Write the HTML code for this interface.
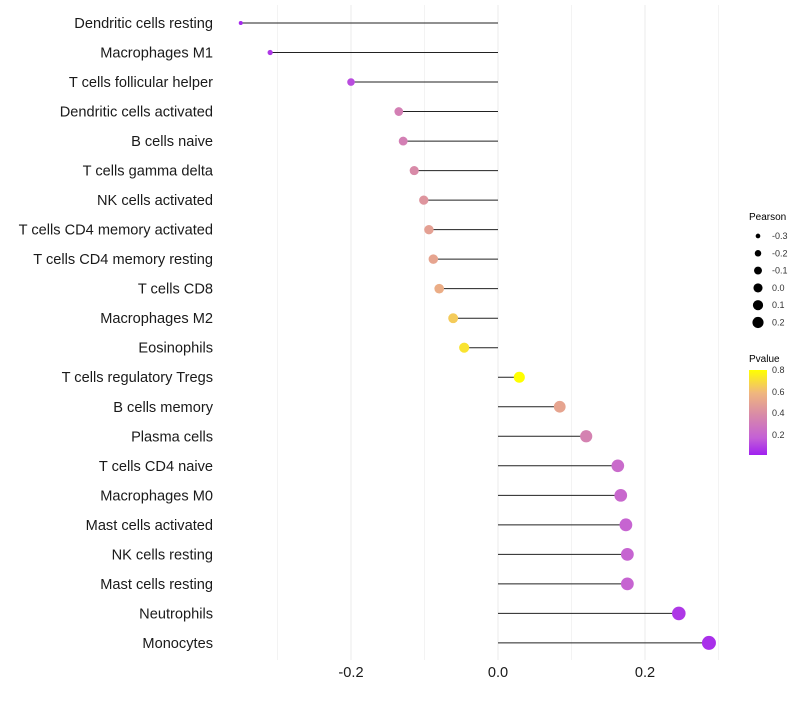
<!DOCTYPE html>
<html><head><meta charset="utf-8"><style>
body{margin:0;background:#fff;font-family:"Liberation Sans",sans-serif}
</style></head><body>
<svg id="chart" width="800" height="700" xmlns="http://www.w3.org/2000/svg" font-family="Liberation Sans, sans-serif">
<defs><linearGradient id="pg" x1="0" y1="1" x2="0" y2="0">
<stop offset="0" stop-color="#a020f0"/><stop offset="0.2" stop-color="#c460d6"/><stop offset="0.47" stop-color="#d88aa8"/><stop offset="0.73" stop-color="#f0b67e"/><stop offset="1" stop-color="#ffff00"/></linearGradient></defs>
<g id="grid"></g><g id="marks"></g><g id="labels"></g>
<g>
<text x="749" y="220" font-size="10" fill="#000">Pearson</text>
<g id="sizeleg"></g></g>
<g>
<text x="749" y="362" font-size="10" fill="#000">Pvalue</text>
<rect x="749" y="370" width="18" height="85" fill="url(#pg)"/>
<g font-size="9" fill="#333">
<text x="772" y="373">0.8</text><text x="772" y="395">0.6</text><text x="772" y="416">0.4</text><text x="772" y="438">0.2</text></g></g>
</svg>
<script>
const categories=["Dendritic cells resting","Macrophages M1","T cells follicular helper","Dendritic cells activated","B cells naive","T cells gamma delta","NK cells activated","T cells CD4 memory activated","T cells CD4 memory resting","T cells CD8","Macrophages M2","Eosinophils","T cells regulatory  Tregs ","B cells memory","Plasma cells","T cells CD4 naive","Macrophages M0","Mast cells activated","NK cells resting","Mast cells resting","Neutrophils","Monocytes"];
const pearson=[-0.350,-0.310,-0.200,-0.135,-0.129,-0.114,-0.101,-0.094,-0.088,-0.080,-0.061,-0.046,0.029,0.084,0.120,0.163,0.167,0.174,0.176,0.176,0.246,0.287];
const pvalues=[0.06,0.1,0.15,0.35,0.35,0.4,0.45,0.5,0.52,0.56,0.66,0.73,0.88,0.52,0.36,0.25,0.24,0.22,0.22,0.22,0.1,0.08];
const xTicks=[-0.2,0.0,0.2];
const xTickLabels=["-0.2","0.0","0.2"];
const sizeLegendVals=[-0.3,-0.2,-0.1,0.0,0.1,0.2];
const NS="http://www.w3.org/2000/svg";
const xs=v=>498+v*735;
const ys=i=>23+i*29.52;
const rs=v=>Math.sqrt(4+Math.max(0,v+0.35)*70.6);
function col(p){const st=[[0.04,[160,32,240]],[0.2,[196,96,214]],[0.4,[216,138,168]],[0.6,[240,182,126]],[0.81,[255,255,0]]];
p=Math.max(0.04,Math.min(0.81,p));for(let k=0;k<st.length-1;k++){if(p<=st[k+1][0]){const t=(p-st[k][0])/(st[k+1][0]-st[k][0]);return 'rgb('+st[k][1].map((c,j)=>Math.round(c+(st[k+1][1][j]-c)*t)).join(',')+')';}}return 'rgb(255,255,0)';}
function mk(tag,a,parent){const e=document.createElementNS(NS,tag);for(const k in a)e.setAttribute(k,a[k]);document.getElementById(parent).appendChild(e);return e;}
[-0.3,-0.2,-0.1,0,0.1,0.2,0.3].forEach(v=>{const g=mk('line',{x1:xs(v),x2:xs(v),y1:5,y2:660,stroke:'#ebebeb','stroke-width':Math.abs(v*10%2)<0.01?1:0.6},'grid');

});
categories.forEach((c,i)=>{const y=ys(i);
const l=mk('line',{x1:xs(0),x2:xs(pearson[i]),y1:y,y2:y,stroke:'#222','stroke-width':1},'marks');


const d=mk('circle',{cx:xs(pearson[i]),cy:y,r:rs(pearson[i]),fill:col(pvalues[i])},'marks');


const t=mk('text',{x:213,y:y+5,'text-anchor':'end','font-size':14.6,fill:'#1a1a1a'},'labels');t.textContent=c;

});
xTicks.forEach((v,i)=>{const t=mk('text',{x:xs(v),y:677,'text-anchor':'middle','font-size':14.6,fill:'#1a1a1a'},'labels');t.textContent=xTickLabels[i];

});
sizeLegendVals.forEach((v,i)=>{const y=236+i*17.3;
const c=mk('circle',{cx:758,cy:y,r:rs(v)*0.85,fill:'#000'},'sizeleg');


const t=mk('text',{x:772,y:y+3,'font-size':9,fill:'#333'},'sizeleg');t.textContent=v.toFixed(1);

});
</script>
</body></html>
